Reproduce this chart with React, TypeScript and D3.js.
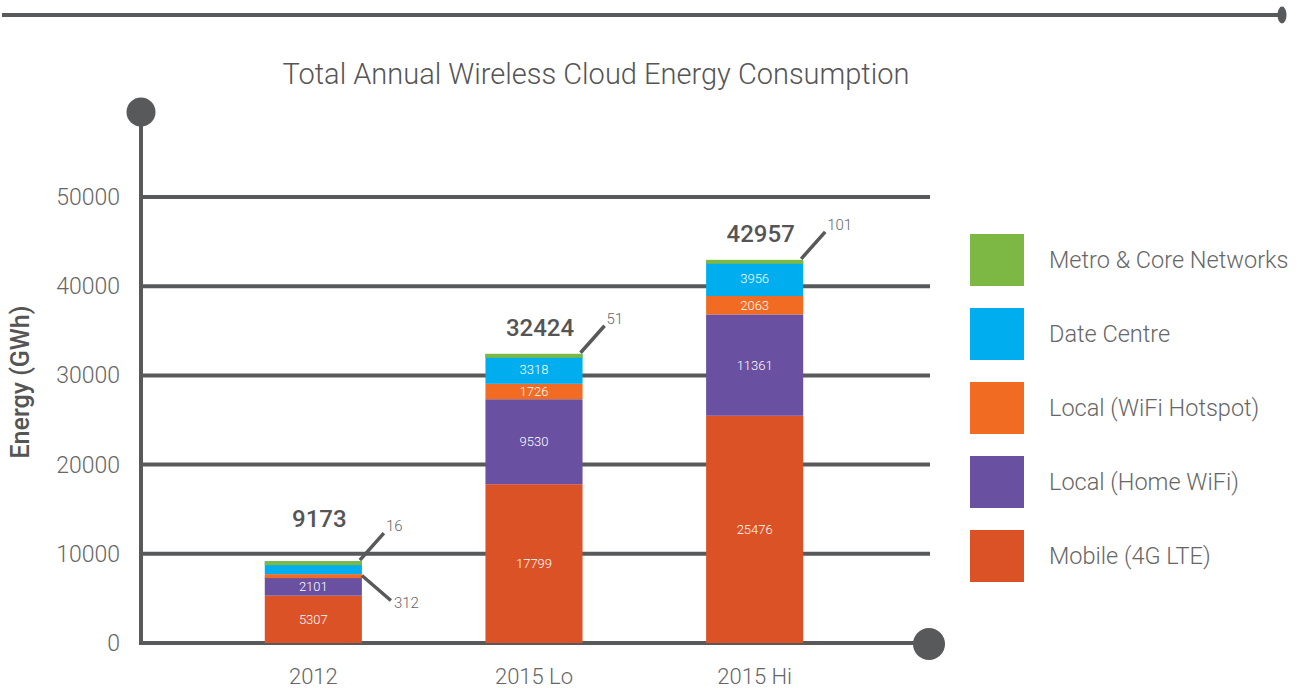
import { useEffect } from 'react';
import * as d3 from 'd3';

const categories = ['2012', '2015 Lo', '2015 Hi'];
const seriesNames = ['Mobile (4G LTE)', 'Local (Home WiFi)', 'Local (WiFi Hotspot)', 'Date Centre', 'Metro & Core Networks'];
const seriesColors = ['#dc5227', '#6a50a1', '#f26b23', '#00aeef', '#7cb843'];
const mobile = [5307, 17799, 25476];
const homeWifi = [2101, 9530, 11361];
const hotspot = [312, 1726, 2063];
const dataCentre = [1437, 3318, 3956];
const metro = [16, 51, 101];
const totals = [9173, 32424, 42957];
const yTicks = [0, 10000, 20000, 30000, 40000, 50000];

const W = 1301;
const H = 688;
const ink = '#58595b';
const font = 'Roboto, "Open Sans", sans-serif';

export default function App() {
  useEffect(() => {
    document.body.style.margin = '0';
  }, []);

  const values = [mobile, homeWifi, hotspot, dataCentre, metro];
  const rows = categories.map((c, i) => {
    const r: Record<string, number | string> = { cat: c };
    seriesNames.forEach((s, k) => (r[s] = values[k][i]));
    return r;
  });
  const stacked = d3.stack<any>().keys(seriesNames)(rows);

  const y = d3.scaleLinear().domain([0, 50000]).range([643, 197]);
  const x = d3.scaleBand().domain(categories).range([203, 865]).paddingInner(0.56).paddingOuter(0.28);
  const axisX = 141;
  const gridRight = 930;
  const minSeg = 4; // keep thin segments visible

  const legendOrder = seriesNames.map((_, k) => k).reverse();
  const legendY = d3.scalePoint<number>().domain(legendOrder).range([234, 530]);

  return (
    <svg width={W} height={H} style={{ display: 'block', fontFamily: font }}>
      {/* top rule */}
      <line x1={2} x2={1279} y1={15} y2={15} stroke={ink} strokeWidth={4} />
      <ellipse cx={1282} cy={15} rx={4.5} ry={8.5} fill={ink} />

      <text x={596} y={84} textAnchor="middle" fontSize={29} fontWeight={300} fill="#555">
        Total Annual Wireless Cloud Energy Consumption
      </text>

      {/* grid */}
      {yTicks.map((t) => (
        <g key={t}>
          <line x1={axisX} x2={t === 0 ? 929 : gridRight} y1={y(t)} y2={y(t)} stroke={ink} strokeWidth={4} />
          <text x={120} y={y(t) + 8} textAnchor="end" fontSize={23} fontWeight={300} fill="#666">
            {t}
          </text>
        </g>
      ))}
      <line x1={axisX} x2={axisX} y1={112} y2={645} stroke={ink} strokeWidth={4} />
      <circle cx={axisX} cy={112} r={14.5} fill={ink} />
      <circle cx={929} cy={644} r={16} fill={ink} />

      <text
        transform={`translate(29,${382}) rotate(-90)`}
        textAnchor="middle"
        fontSize={25}
        fontWeight={500}
        fill="#555"
      >
        Energy (GWh)
      </text>

      {/* bars */}
      {stacked.map((layer, k) => (
        <g key={layer.key}>
          {layer.map((d, i) => {
            const bx = x(categories[i])!;
            const y0 = y(d[0]);
            const y1 = y(d[1]);
            const h = Math.max(minSeg, y0 - y1);
            return (
              <g key={i}>
                <rect x={bx} y={y1} width={x.bandwidth()} height={h} fill={seriesColors[k]} />
                {y0 - y1 > 14 && (
                  <text
                    x={bx + x.bandwidth() / 2}
                    y={(y0 + y1) / 2 + 4.5}
                    textAnchor="middle"
                    fontSize={13}
                    fontWeight={300}
                    fill="#fff"
                  >
                    {values[k][i]}
                  </text>
                )}
              </g>
            );
          })}
        </g>
      ))}

      {/* callouts for thin segments and totals */}
      {categories.map((c, i) => {
        const right = x(c)! + x.bandwidth();
        const top = y(totals[i]);
        return (
          <g key={c}>
            <line x1={right - 2} y1={top - 1} x2={right + 22} y2={top - 28} stroke={ink} strokeWidth={3.5} />
            <text x={right + 24} y={top - 30} fontSize={15} fontWeight={300} fill="#666">
              {metro[i]}
            </text>
            <text
              x={x(c)! + x.bandwidth() / 2 + 6}
              y={top - (i === 0 ? 34 : 18)}
              textAnchor="middle"
              fontSize={24}
              fontWeight={500}
              fill="#555"
            >
              {totals[i]}
            </text>
          </g>
        );
      })}
      {hotspot.map((v, i) => {
        const yMid = y(mobile[i] + homeWifi[i] + v / 2);
        if (y(mobile[i] + homeWifi[i]) - y(mobile[i] + homeWifi[i] + v) > 14) return null;
        const right = x(categories[i])! + x.bandwidth();
        return (
          <g key={`hs-${i}`}>
            <line x1={right} y1={yMid} x2={right + 29} y2={yMid + 25} stroke={ink} strokeWidth={3.5} />
            <text x={right + 32} y={yMid + 32} fontSize={15} fontWeight={300} fill="#666">
              {v}
            </text>
          </g>
        );
      })}

      {categories.map((c) => (
        <text key={c} x={x(c)! + x.bandwidth() / 2} y={684} textAnchor="middle" fontSize={22} fontWeight={300} fill="#666">
          {c}
        </text>
      ))}

      {/* legend */}
      {legendOrder.map((k) => {
        const ly = legendY(k)!;
        return (
          <g key={seriesNames[k]}>
            <rect x={970} y={ly} width={54} height={52} fill={seriesColors[k]} />
            <text x={1049} y={ly + 34} fontSize={23.5} fontWeight={300} fill="#666">
              {seriesNames[k]}
            </text>
          </g>
        );
      })}
    </svg>
  );
}
